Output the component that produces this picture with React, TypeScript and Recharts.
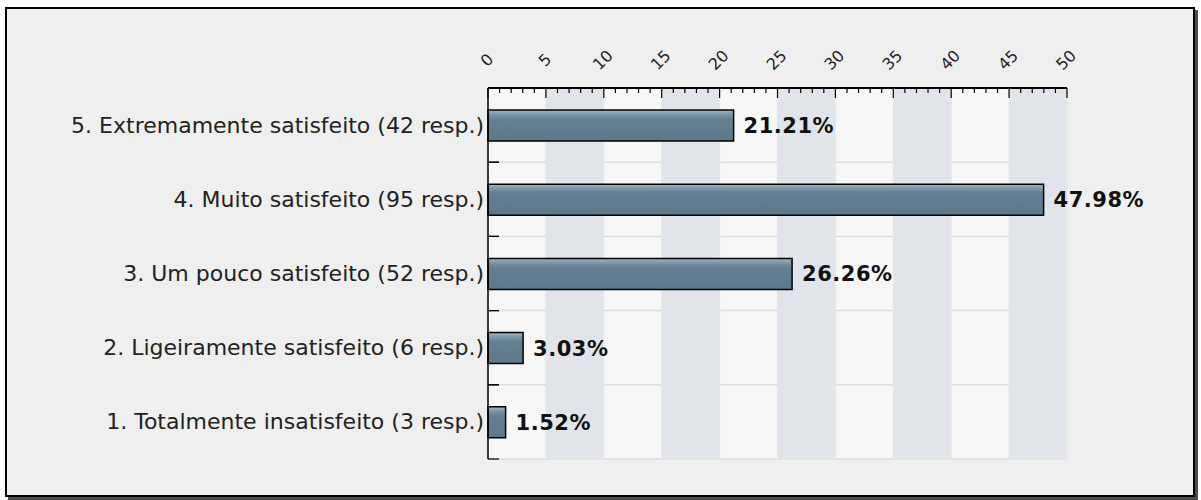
import React from 'react';
import { BarChart, Bar, XAxis, YAxis, CartesianGrid, ReferenceArea, LabelList } from 'recharts';

const categories = [
  '5. Extremamente satisfeito (42 resp.)',
  '4. Muito satisfeito (95 resp.)',
  '3. Um pouco satisfeito (52 resp.)',
  '2. Ligeiramente satisfeito (6 resp.)',
  '1. Totalmente insatisfeito (3 resp.)',
];
const percents = [21.21, 47.98, 26.26, 3.03, 1.52];

const majorTicks = [0, 5, 10, 15, 20, 25, 30, 35, 40, 45, 50];
const minorTicks = Array.from({ length: 51 }, (_, i) => i);
const shadedBands: [number, number][] = [[5, 10], [15, 20], [25, 30], [35, 40], [45, 50]];

const data = categories.map((label, i) => ({ label, value: percents[i] }));

const FONT = '"DejaVu Sans", Verdana, sans-serif';

const TopTick = (props: any) => {
  const { x, y, payload } = props;
  const v = payload.value as number;
  const major = majorTicks.includes(v);
  const lx = x - 1;
  const ly = y - 28;
  return (
    <g>
      <line x1={x} y1={y} x2={x} y2={y + (major ? 10 : 5)} stroke="#000" strokeWidth={1.2} />
      {major && (
        <text
          x={lx}
          y={ly}
          textAnchor="middle"
          dominantBaseline="central"
          fontFamily={FONT}
          fontSize={16}
          fill="#222"
          transform={`rotate(-45 ${lx} ${ly})`}
        >
          {v}
        </text>
      )}
    </g>
  );
};

const LeftTick = (props: any) => {
  const { x, y, payload } = props;
  const half = payload.offset ?? 0;
  return (
    <g>
      <line x1={x} y1={y - half} x2={x + 11} y2={y - half} stroke="#000" strokeWidth={1.2} />
      <line x1={x} y1={y + half} x2={x + 11} y2={y + half} stroke="#000" strokeWidth={1.2} />
      <text x={x - 4} y={y} textAnchor="end" dominantBaseline="central" fontFamily={FONT} fontSize={22} fill="#222">
        {payload.value}
      </text>
    </g>
  );
};

const rowLines = ({ offset }: any) =>
  data.map((_, i) => offset.top + (i * offset.height) / data.length).concat(offset.top + offset.height);

export default function App() {
  return (
    <div style={{ position: 'absolute', left: 0, top: 0, width: 1201, height: 500, background: '#fff' }}>
      <div
        style={{
          position: 'absolute',
          left: 5,
          top: 7,
          width: 1190,
          height: 490,
          boxSizing: 'border-box',
          border: '2px solid #000',
          background: '#efefef',
          boxShadow: '3px 3px 0 #4d4d4d',
        }}
      />
      <div style={{ position: 'absolute', left: 0, top: 0 }}>
        <BarChart
          width={1201}
          height={500}
          data={data}
          layout="vertical"
          margin={{ top: 48, right: 134, bottom: 41, left: 0 }}
        >
          <defs>
            <linearGradient id="barFill" x1="0" y1="0" x2="0" y2="1">
              <stop offset="0%" stopColor="#a3b7c4" />
              <stop offset="14%" stopColor="#7d96a7" />
              <stop offset="30%" stopColor="#647f92" />
              <stop offset="100%" stopColor="#5d788b" />
            </linearGradient>
          </defs>
          <CartesianGrid fill="#f7f7f7" stroke="none" vertical={false} horizontal={false} />
          {shadedBands.map(([a, b]) => (
            <ReferenceArea key={a} x1={a} x2={b} fill="#e1e5e9" fillOpacity={1} stroke="#e6e6e6" strokeWidth={1} />
          ))}
          <CartesianGrid
            vertical={false}
            stroke="#dcdcdc"
            strokeWidth={1.5}
            horizontalCoordinatesGenerator={rowLines}
          />
          <XAxis
            type="number"
            orientation="top"
            domain={[0, 50]}
            ticks={minorTicks}
            interval={0}
            height={40}
            tickLine={false}
            tickSize={0}
            tickMargin={0}
            axisLine={{ stroke: '#000', strokeWidth: 2 }}
            tick={<TopTick />}
          />
          <YAxis
            type="category"
            dataKey="label"
            width={488}
            tickLine={false}
            tickSize={0}
            tickMargin={0}
            axisLine={{ stroke: '#000', strokeWidth: 1.5 }}
            tick={<LeftTick />}
          />
          <Bar dataKey="value" barSize={31} fill="url(#barFill)" stroke="#000" strokeWidth={1.5} isAnimationActive={false}>
            <LabelList
              dataKey="value"
              position="right"
              offset={10}
              formatter={(v: any) => `${Number(v).toFixed(2)}%`}
              style={{ fontFamily: FONT, fontSize: 21, fontWeight: 'bold', fill: '#111', letterSpacing: 0.5 }}
            />
          </Bar>
        </BarChart>
      </div>
    </div>
  );
}
